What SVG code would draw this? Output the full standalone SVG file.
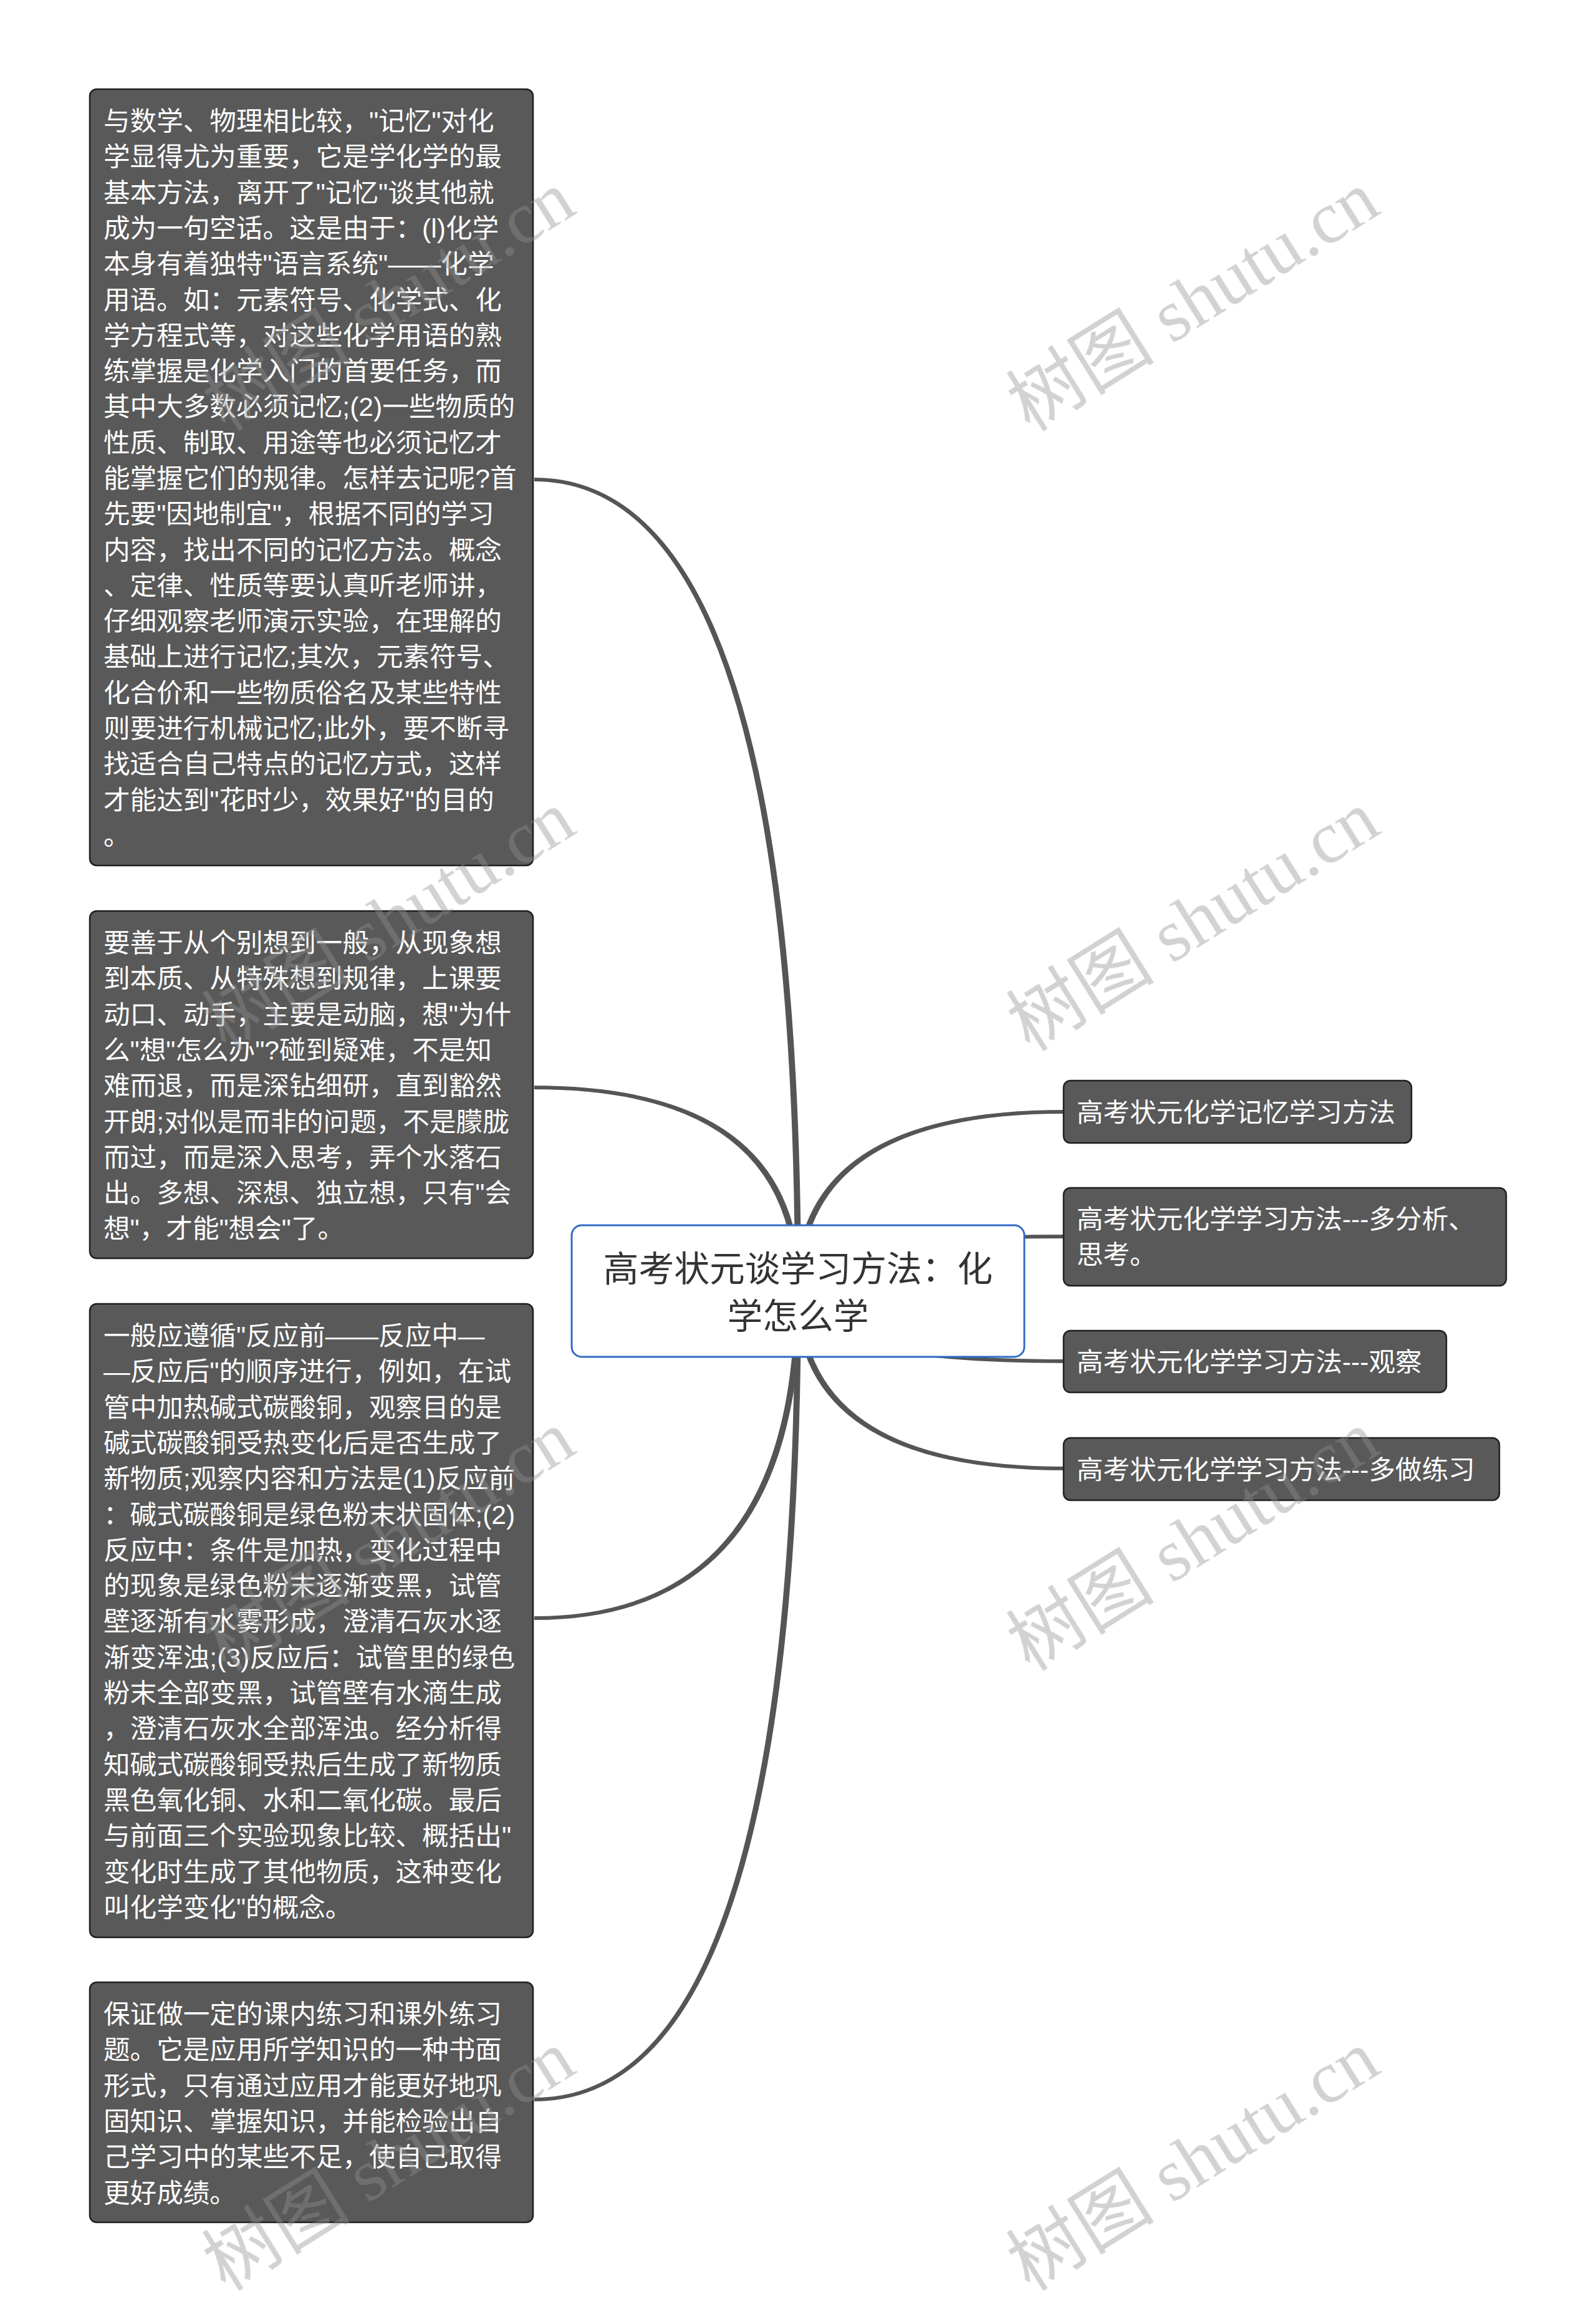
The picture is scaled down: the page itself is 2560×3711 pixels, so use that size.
<svg xmlns="http://www.w3.org/2000/svg" width="2560" height="3711" viewBox="0 0 2560 3711">
<style>
.bg{fill:#ffffff}
.conn path{fill:#555555;stroke:none}
.node rect{fill:#595959;stroke:#1f1f1f;stroke-width:2.5}
.node text{fill:#ffffff;font-family:"Liberation Sans","Noto Sans CJK SC",sans-serif;font-size:42.6px}
.center rect{fill:#ffffff;stroke:#2f6bc5;stroke-width:3}
.center text{fill:#333333;font-family:"Liberation Sans","Noto Sans CJK SC",sans-serif;font-size:56.8px;text-anchor:middle}
.wm{font-family:"Liberation Serif","Noto Sans CJK SC",serif;font-size:119px;fill:#919191;opacity:0.41}
</style>
<rect class="bg" x="0" y="0" width="2560" height="3711"/>
<g id="connectors" class="conn">
<path d="M1285 2070 Q1285 766 857 766 L857 772 Q1275 772 1275 2070 Z"/>
<path d="M1285 2070 Q1285 1741 857 1741 L857 1747 Q1275 1747 1275 2070 Z"/>
<path d="M1285 2070 Q1285 2598 857 2598 L857 2592 Q1275 2592 1275 2070 Z"/>
<path d="M1285 2070 Q1285 3370 857 3370 L857 3364 Q1275 3364 1275 2070 Z"/>
<path d="M1275 2070 Q1275 1780 1707 1780 L1707 1786 Q1285 1786 1285 2070 Z"/>
<path d="M1275 2070 Q1275 1980 1707 1980 L1707 1986 Q1285 1986 1285 2070 Z"/>
<path d="M1275 2070 Q1275 2186 1707 2186 L1707 2180 Q1285 2180 1285 2070 Z"/>
<path d="M1275 2070 Q1275 2358 1707 2358 L1707 2352 Q1285 2352 1285 2070 Z"/>
</g>
<g id="center" class="center">
<rect x="917" y="1965" width="726" height="211" rx="16"/>
<text x="1280" y="2055"><tspan x="1280">高考状元谈学习方法：化</tspan><tspan x="1280" dy="76">学怎么学</tspan></text>
</g>
<g id="left1" class="node">
<rect x="144" y="143" width="711" height="1245" rx="11"/>
<text x="166" y="209"><tspan x="166">与数学、物理相比较，"记忆"对化</tspan><tspan x="166" dy="57.3">学显得尤为重要，它是学化学的最</tspan><tspan x="166" dy="57.3">基本方法，离开了"记忆"谈其他就</tspan><tspan x="166" dy="57.3">成为一句空话。这是由于：(l)化学</tspan><tspan x="166" dy="57.3">本身有着独特"语言系统"——化学</tspan><tspan x="166" dy="57.3">用语。如：元素符号、化学式、化</tspan><tspan x="166" dy="57.3">学方程式等，对这些化学用语的熟</tspan><tspan x="166" dy="57.3">练掌握是化学入门的首要任务，而</tspan><tspan x="166" dy="57.3">其中大多数必须记忆;(2)一些物质的</tspan><tspan x="166" dy="57.3">性质、制取、用途等也必须记忆才</tspan><tspan x="166" dy="57.3">能掌握它们的规律。怎样去记呢?首</tspan><tspan x="166" dy="57.3">先要"因地制宜"，根据不同的学习</tspan><tspan x="166" dy="57.3">内容，找出不同的记忆方法。概念</tspan><tspan x="166" dy="57.3">、定律、性质等要认真听老师讲，</tspan><tspan x="166" dy="57.3">仔细观察老师演示实验，在理解的</tspan><tspan x="166" dy="57.3">基础上进行记忆;其次，元素符号、</tspan><tspan x="166" dy="57.3">化合价和一些物质俗名及某些特性</tspan><tspan x="166" dy="57.3">则要进行机械记忆;此外，要不断寻</tspan><tspan x="166" dy="57.3">找适合自己特点的记忆方式，这样</tspan><tspan x="166" dy="57.3">才能达到"花时少，效果好"的目的</tspan><tspan x="166" dy="57.3">。</tspan></text>
</g>
<g id="left2" class="node">
<rect x="144" y="1461" width="711" height="557" rx="11"/>
<text x="166" y="1527"><tspan x="166">要善于从个别想到一般，从现象想</tspan><tspan x="166" dy="57.3">到本质、从特殊想到规律，上课要</tspan><tspan x="166" dy="57.3">动口、动手，主要是动脑，想"为什</tspan><tspan x="166" dy="57.3">么"想"怎么办"?碰到疑难，不是知</tspan><tspan x="166" dy="57.3">难而退，而是深钻细研，直到豁然</tspan><tspan x="166" dy="57.3">开朗;对似是而非的问题，不是朦胧</tspan><tspan x="166" dy="57.3">而过，而是深入思考，弄个水落石</tspan><tspan x="166" dy="57.3">出。多想、深想、独立想，只有"会</tspan><tspan x="166" dy="57.3">想"，才能"想会"了。</tspan></text>
</g>
<g id="left3" class="node">
<rect x="144" y="2091" width="711" height="1016" rx="11"/>
<text x="166" y="2157"><tspan x="166">一般应遵循"反应前——反应中—</tspan><tspan x="166" dy="57.3">—反应后"的顺序进行，例如，在试</tspan><tspan x="166" dy="57.3">管中加热碱式碳酸铜，观察目的是</tspan><tspan x="166" dy="57.3">碱式碳酸铜受热变化后是否生成了</tspan><tspan x="166" dy="57.3">新物质;观察内容和方法是(1)反应前</tspan><tspan x="166" dy="57.3">：碱式碳酸铜是绿色粉末状固体;(2)</tspan><tspan x="166" dy="57.3">反应中：条件是加热，变化过程中</tspan><tspan x="166" dy="57.3">的现象是绿色粉末逐渐变黑，试管</tspan><tspan x="166" dy="57.3">壁逐渐有水雾形成，澄清石灰水逐</tspan><tspan x="166" dy="57.3">渐变浑浊;(3)反应后：试管里的绿色</tspan><tspan x="166" dy="57.3">粉末全部变黑，试管壁有水滴生成</tspan><tspan x="166" dy="57.3">，澄清石灰水全部浑浊。经分析得</tspan><tspan x="166" dy="57.3">知碱式碳酸铜受热后生成了新物质</tspan><tspan x="166" dy="57.3">黑色氧化铜、水和二氧化碳。最后</tspan><tspan x="166" dy="57.3">与前面三个实验现象比较、概括出"</tspan><tspan x="166" dy="57.3">变化时生成了其他物质，这种变化</tspan><tspan x="166" dy="57.3">叫化学变化"的概念。</tspan></text>
</g>
<g id="left4" class="node">
<rect x="144" y="3179" width="711" height="385" rx="11"/>
<text x="166" y="3245"><tspan x="166">保证做一定的课内练习和课外练习</tspan><tspan x="166" dy="57.3">题。它是应用所学知识的一种书面</tspan><tspan x="166" dy="57.3">形式，只有通过应用才能更好地巩</tspan><tspan x="166" dy="57.3">固知识、掌握知识，并能检验出自</tspan><tspan x="166" dy="57.3">己学习中的某些不足，使自己取得</tspan><tspan x="166" dy="57.3">更好成绩。</tspan></text>
</g>
<g id="right1" class="node">
<rect x="1706" y="1733" width="558" height="100" rx="11"/>
<text x="1727" y="1799">高考状元化学记忆学习方法</text>
</g>
<g id="right2" class="node">
<rect x="1706" y="1905" width="710" height="157" rx="11"/>
<text x="1727" y="1970"><tspan x="1727">高考状元化学学习方法---多分析、</tspan><tspan x="1727" dy="57.3">思考。</tspan></text>
</g>
<g id="right3" class="node">
<rect x="1706" y="2134" width="614" height="99" rx="11"/>
<text x="1727" y="2199">高考状元化学学习方法---观察</text>
</g>
<g id="right4" class="node">
<rect x="1706" y="2306" width="699" height="100" rx="11"/>
<text x="1727" y="2372">高考状元化学学习方法---多做练习</text>
</g>
<g id="watermarks" class="wm">
<text transform="translate(1652 694) rotate(-32)">树图 shutu.cn</text>
<text transform="translate(1652 1688) rotate(-32)">树图 shutu.cn</text>
<text transform="translate(1652 2682) rotate(-32)">树图 shutu.cn</text>
<text transform="translate(1652 3676) rotate(-32)">树图 shutu.cn</text>
<text transform="translate(362 694) rotate(-32)">树图 shutu.cn</text>
<text transform="translate(362 1688) rotate(-32)">树图 shutu.cn</text>
<text transform="translate(362 2682) rotate(-32)">树图 shutu.cn</text>
<text transform="translate(362 3676) rotate(-32)">树图 shutu.cn</text>
</g>
</svg>
